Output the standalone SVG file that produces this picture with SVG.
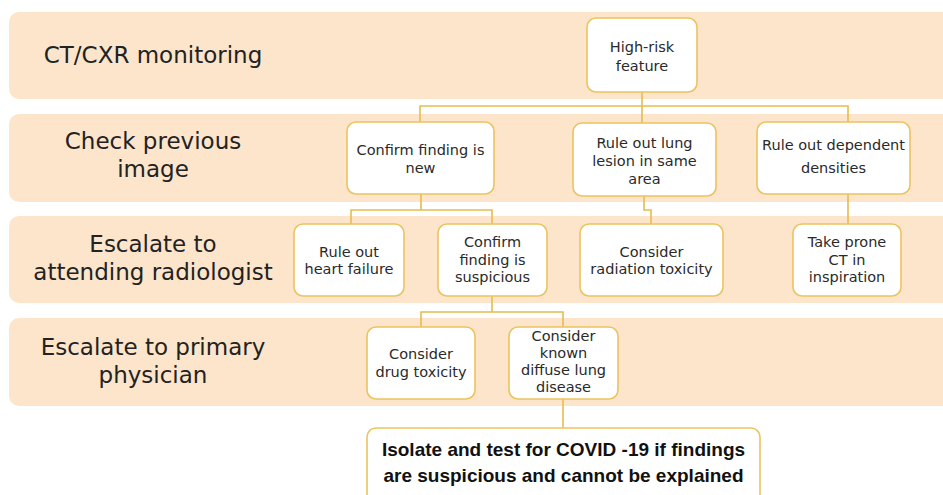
<svg xmlns="http://www.w3.org/2000/svg" width="943" height="495" viewBox="0 0 943 495">
<style>
.band{fill:#FCE5CB}
.lbl{font-family:"DejaVu Sans",sans-serif;font-size:23px;fill:#222;text-anchor:middle}
.box{fill:#fff;stroke:#EBC35F;stroke-width:1.6}
.t{font-family:"DejaVu Sans",sans-serif;font-size:14.5px;fill:#2a2a2a;text-anchor:middle}
.b{font-family:"Liberation Sans",Arial,sans-serif;font-size:19px;font-weight:bold;fill:#111;text-anchor:middle}
.c{fill:none;stroke:#E5BC4E;stroke-width:1.6}
</style>
<rect width="943" height="495" fill="#fff"/>
<g id="bands">
<rect class="band" x="9" y="12" width="950" height="87" rx="10"/>
<rect class="band" x="9" y="114" width="950" height="88" rx="10"/>
<rect class="band" x="9" y="216" width="950" height="87" rx="10"/>
<rect class="band" x="9" y="318" width="950" height="88" rx="10"/>
</g>
<g id="row-labels">
<text class="lbl" x="153" y="63">CT/CXR monitoring</text>
<text class="lbl" x="153" y="149">Check previous</text>
<text class="lbl" x="153" y="177">image</text>
<text class="lbl" x="153" y="252">Escalate to</text>
<text class="lbl" x="153" y="280">attending radiologist</text>
<text class="lbl" x="153" y="355">Escalate to primary</text>
<text class="lbl" x="153" y="383">physician</text>
</g>
<g id="connectors">
<path class="c" d="M642 92 V106 M420 123 V106 H848 V123 M642 106 V123"/>
<path class="c" d="M421 194 V210 M351 224 V210 H492 V224"/>
<path class="c" d="M644 196 V210 H651 V224"/>
<path class="c" d="M848 194 V224"/>
<path class="c" d="M492 296 V312 M421 327 V312 H563 V327"/>
<path class="c" d="M563 399 V428"/>
</g>
<g id="n-highrisk">
<rect class="box" x="587" y="18" width="110" height="74" rx="9"/>
<text class="t" x="642" y="52">High-risk</text>
<text class="t" x="642" y="71">feature</text>
</g>
<g id="n-confirm-new">
<rect class="box" x="347" y="122" width="147" height="72" rx="9"/>
<text class="t" x="420.5" y="155">Confirm finding is</text>
<text class="t" x="420.5" y="173">new</text>
</g>
<g id="n-rule-lesion">
<rect class="box" x="573" y="123" width="143" height="73" rx="9"/>
<text class="t" x="644.5" y="148">Rule out lung</text>
<text class="t" x="644.5" y="166">lesion in same</text>
<text class="t" x="644.5" y="184">area</text>
</g>
<g id="n-rule-dependent">
<rect class="box" x="757" y="122" width="153" height="72" rx="9"/>
<text class="t" x="833.5" y="150">Rule out dependent</text>
<text class="t" x="833.5" y="173">densities</text>
</g>
<g id="n-heart">
<rect class="box" x="294" y="224" width="110" height="72" rx="9"/>
<text class="t" x="349" y="257">Rule out</text>
<text class="t" x="349" y="274">heart failure</text>
</g>
<g id="n-suspicious">
<rect class="box" x="438" y="224" width="109" height="72" rx="9"/>
<text class="t" x="492.5" y="247">Confirm</text>
<text class="t" x="492.5" y="265">finding is</text>
<text class="t" x="492.5" y="282">suspicious</text>
</g>
<g id="n-radiation">
<rect class="box" x="580" y="224" width="143" height="72" rx="9"/>
<text class="t" x="651.5" y="257">Consider</text>
<text class="t" x="651.5" y="274">radiation toxicity</text>
</g>
<g id="n-prone">
<rect class="box" x="793" y="224" width="108" height="72" rx="9"/>
<text class="t" x="847" y="247">Take prone</text>
<text class="t" x="847" y="265">CT in</text>
<text class="t" x="847" y="282">inspiration</text>
</g>
<g id="n-drug">
<rect class="box" x="367" y="327" width="108" height="72" rx="9"/>
<text class="t" x="421" y="359">Consider</text>
<text class="t" x="421" y="377">drug toxicity</text>
</g>
<g id="n-diffuse">
<rect class="box" x="509" y="327" width="109" height="72" rx="9"/>
<text class="t" x="563.5" y="341">Consider</text>
<text class="t" x="563.5" y="358">known</text>
<text class="t" x="563.5" y="375">diffuse lung</text>
<text class="t" x="563.5" y="392">disease</text>
</g>
<g id="n-isolate">
<rect class="box" x="367" y="428" width="393" height="80" rx="9"/>
<text class="b" x="563.5" y="456">Isolate and test for COVID -19 if findings</text>
<text class="b" x="563.5" y="482">are suspicious and cannot be explained</text>
</g>
</svg>
